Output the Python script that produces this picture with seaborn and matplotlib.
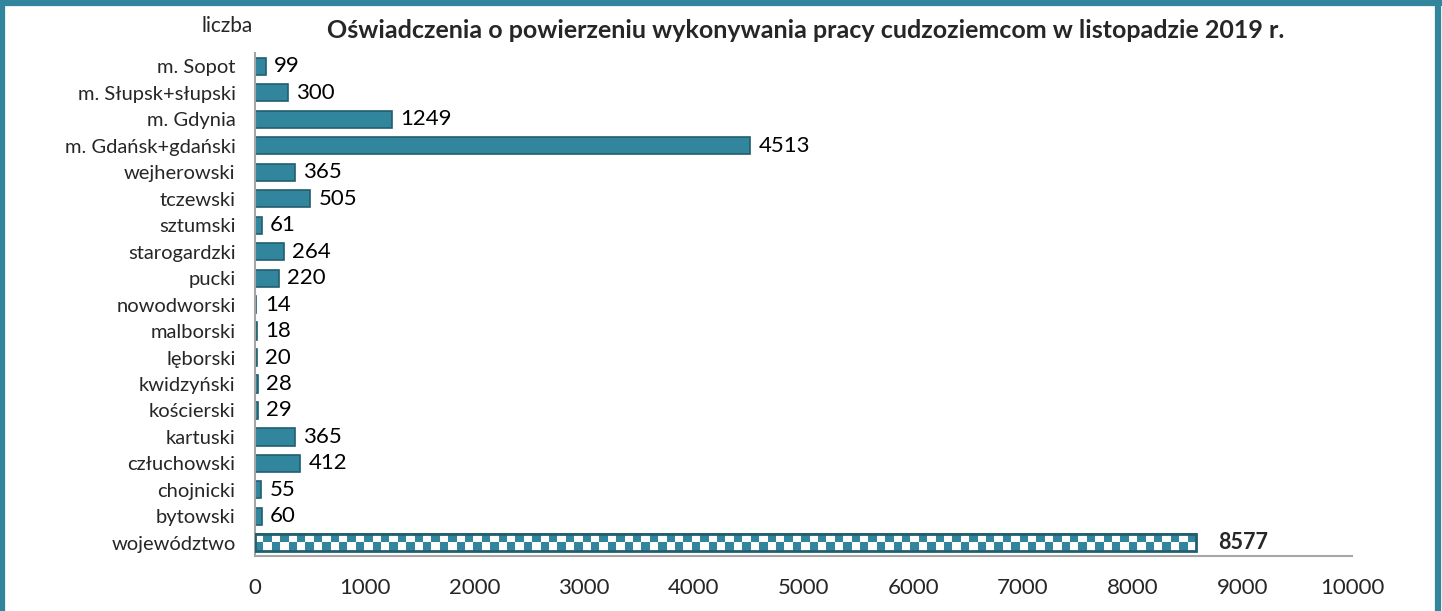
import numpy as np
import pandas as pd
import matplotlib
matplotlib.use("Agg")
import matplotlib.pyplot as plt
from matplotlib.patches import Rectangle
import seaborn as sns

powiaty = ["m. Sopot", "m. Słupsk+słupski", "m. Gdynia", "m. Gdańsk+gdański",
           "wejherowski", "tczewski", "sztumski", "starogardzki", "pucki",
           "nowodworski", "malborski", "lęborski", "kwidzyński", "kościerski",
           "kartuski", "człuchowski", "chojnicki", "bytowski", "województwo"]
liczba = [99, 300, 1249, 4513, 365, 505, 61, 264, 220, 14, 18, 20, 28, 29,
          365, 412, 55, 60, 8577]
xticks = [0, 1000, 2000, 3000, 4000, 5000, 6000, 7000, 8000, 9000, 10000]

teal = "#31859C"
edge = "#215F70"

df = pd.DataFrame({"Powiat": powiaty, "Liczba": liczba})

sns.set_theme(style="white")
plt.rcParams["font.family"] = ["Lato", "DejaVu Sans"]

fig = plt.figure(figsize=(14.42, 6.11), dpi=100)
ax = fig.add_axes([0.1768, 0.090, 0.7608, 0.823])

sns.barplot(data=df, x="Liczba", y="Powiat", orient="h", color=teal,
            saturation=1, width=0.65, edgecolor=edge, linewidth=1.2, ax=ax)

# checkerboard fill for the total bar
last = ax.patches[-1]
last.set_facecolor("white")
x0, y0 = last.get_x(), last.get_y()
w, h = last.get_width(), last.get_height()
px_w = w * 0.1097
ncol = int(round(px_w / 8.4))
nrow = 2
chk = (np.indices((nrow, ncol)).sum(axis=0) % 2).astype(float)
cmap = matplotlib.colors.ListedColormap(["white", teal])
im = ax.imshow(chk, extent=(x0, x0 + w, y0 + h, y0), cmap=cmap,
               interpolation="nearest", aspect="auto", zorder=3)
im.set_clip_path(last)
ax.add_patch(Rectangle((x0, y0), w, h, fill=False, edgecolor=edge,
                       linewidth=2, zorder=4))

cont = ax.containers[0]
labels = [str(v) for v in liczba]
ax.bar_label(cont, labels=labels[:-1] + [""], padding=6, fontsize=16, color="black")
ax.text(liczba[-1] + 200, len(powiaty) - 1, str(liczba[-1]), fontsize=15.5,
        fontweight="bold", va="center", ha="left")

ax.set_xlim(0, 10000)
ax.set_ylim(len(powiaty) - 0.5, -0.5)
ax.set_xticks(xticks)
ax.set_xticklabels([str(t) for t in xticks], fontsize=16)
ax.tick_params(axis="x", length=0, pad=16)
ax.tick_params(axis="y", length=0, pad=14, labelsize=14.5)
ax.set_xlabel("")
ax.set_ylabel("")
for s in ["top", "right"]:
    ax.spines[s].set_visible(False)
for s in ["left", "bottom"]:
    ax.spines[s].set_color("#A6A6A6")
    ax.spines[s].set_linewidth(1.5)

fig.text(0.1755, 0.958, "liczba", fontsize=15, ha="right", va="center")
fig.text(0.559, 0.950, "Oświadczenia o powierzeniu wykonywania pracy cudzoziemcom w listopadzie 2019 r.",
         fontsize=18, fontweight="bold", ha="center", va="center")

# teal frame around the chart
fig.add_artist(Rectangle((0.0017, -0.05), 0.9955, 1.045, transform=fig.transFigure,
                         fill=False, edgecolor=teal, linewidth=4.5))
fig.add_artist(Rectangle((0, 0.99), 1, 0.01, transform=fig.transFigure,
                         facecolor=teal, edgecolor="none"))

fig.savefig("out.png", dpi=100, facecolor="white")
